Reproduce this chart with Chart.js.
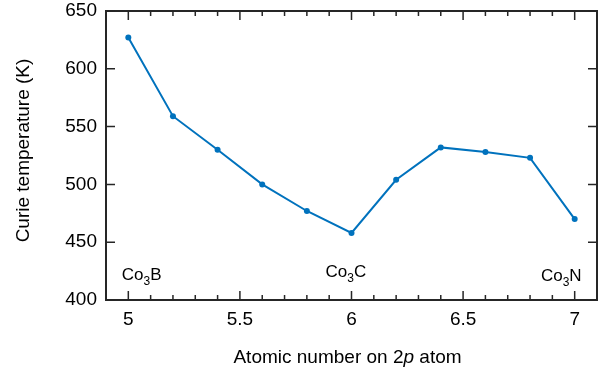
<!DOCTYPE html>
<html><head><meta charset="utf-8">
<script src="https://cdn.jsdelivr.net/npm/chart.js@4.4.0/dist/chart.umd.min.js"></script>
<style>html,body{margin:0;padding:0;background:#fff}</style>
</head><body>
<canvas id="c" width="612" height="371" style="display:block;width:612px;height:371px"></canvas>
<script>
const atomicNumber = [5, 5.2, 5.4, 5.6, 5.8, 6.0, 6.2, 6.4, 6.6, 6.8, 7.0];
const curieTemp = [627, 559, 530, 500, 477, 458, 504, 532, 528, 523, 470];
const xTickValues = [5, 5.5, 6, 6.5, 7];
const xMinorTickValues = [5.1, 5.2, 5.3, 5.4, 5.6, 5.7, 5.8, 5.9, 6.1, 6.2, 6.3, 6.4, 6.6, 6.7, 6.8, 6.9];
const yTickValues = [400, 450, 500, 550, 600, 650];
const compoundElements = ['B', 'C', 'N'];
const compoundX = [5.06, 5.975, 6.94];
const compoundY = [423, 425.5, 422];

const FONT = "'Liberation Sans', Arial, Helvetica, sans-serif";
const LINE = '#0072BD';
const AXIS_COLOR = 'rgb(38,38,38)';

const decor = {
  id: 'decor',
  afterDraw(chart) {
    const ctx = chart.ctx;
    const a = chart.chartArea;
    const xs = chart.scales.x, ys = chart.scales.y;
    ctx.save();
    ctx.setLineDash([]);
    ctx.strokeStyle = AXIS_COLOR;
    ctx.lineWidth = 2;
    ctx.lineCap = 'butt';
    const L = Math.round(a.left), R = Math.round(a.right), T = Math.round(a.top), Bt = Math.round(a.bottom);
    ctx.beginPath();
    ctx.moveTo(L, T); ctx.lineTo(R, T); ctx.lineTo(R, Bt); ctx.lineTo(L, Bt); ctx.closePath();
    ctx.stroke();
    ctx.lineWidth = 1.5;
    ctx.beginPath();
    xTickValues.forEach(v => {
      const px = xs.getPixelForValue(v);
      ctx.moveTo(px, Bt); ctx.lineTo(px, Bt - 9);
      ctx.moveTo(px, T); ctx.lineTo(px, T + 9);
    });
    xMinorTickValues.forEach(v => {
      const px = xs.getPixelForValue(v);
      ctx.moveTo(px, Bt); ctx.lineTo(px, Bt - 5);
      ctx.moveTo(px, T); ctx.lineTo(px, T + 5);
    });
    yTickValues.forEach(v => {
      const py = ys.getPixelForValue(v);
      ctx.moveTo(L, py); ctx.lineTo(L + 9, py);
      ctx.moveTo(R, py); ctx.lineTo(R - 9, py);
    });
    ctx.stroke();
    // compound labels
    ctx.fillStyle = '#000';
    ctx.textBaseline = 'alphabetic';
    ctx.textAlign = 'left';
    compoundElements.forEach((el, i) => {
      const big = '17px ' + FONT, small = '12px ' + FONT;
      ctx.font = big; const w1 = ctx.measureText('Co').width; const w3 = ctx.measureText(el).width;
      ctx.font = small; const w2 = ctx.measureText('3').width;
      const total = w1 + w2 + w3;
      const cx = xs.getPixelForValue(compoundX[i]);
      const cy = ys.getPixelForValue(compoundY[i]);
      const base = cy + 6.2;
      let x = cx - total / 2;
      ctx.font = big; ctx.fillText('Co', x, base); x += w1;
      ctx.font = small; ctx.fillText('3', x, base + 5); x += w2;
      ctx.font = big; ctx.fillText(el, x, base);
    });
    // x title with italic p
    const parts = [['Atomic number on 2', 'normal'], ['p', 'italic'], [' atom', 'normal']];
    let tw = 0;
    parts.forEach(p => { ctx.font = p[1] + ' 19px ' + FONT; p.push(ctx.measureText(p[0]).width); tw += p[2]; });
    let tx = (a.left + a.right) / 2 - 4 - tw / 2;
    parts.forEach(p => { ctx.font = p[1] + ' 19px ' + FONT; ctx.fillText(p[0], tx, 362.5); tx += p[2]; });
    // y title
    ctx.save();
    ctx.translate(29, (a.top + a.bottom) / 2 - 5);
    ctx.rotate(-Math.PI / 2);
    ctx.textAlign = 'center';
    ctx.font = '19px ' + FONT;
    ctx.fillText('Curie temperature (K)', 0, 0);
    ctx.restore();
    ctx.restore();
  }
};

new Chart(document.getElementById('c'), {
  type: 'line',
  data: {
    datasets: [{
      data: atomicNumber.map((x, i) => ({ x, y: curieTemp[i] })),
      borderColor: LINE,
      backgroundColor: LINE,
      borderWidth: 2,
      pointRadius: 3,
      pointBorderWidth: 0,
      tension: 0,
      fill: false
    }]
  },
  options: {
    responsive: false,
    animation: false,
    devicePixelRatio: 1,
    layout: { padding: { left: 0, right: 15, top: 11, bottom: 0 } },
    plugins: { legend: { display: false }, tooltip: { enabled: false } },
    scales: {
      x: {
        type: 'linear', min: 4.9, max: 7.1,
        afterBuildTicks: s => { s.ticks = xTickValues.map(v => ({ value: v })); },
        afterFit: s => { s.height = 71; s.paddingLeft = 0; s.paddingRight = 0; },
        grid: { display: false, drawTicks: false },
        border: { display: false },
        ticks: { color: '#000', font: { family: FONT, size: 19 }, padding: 8, maxRotation: 0, callback: v => String(v) }
      },
      y: {
        type: 'linear', min: 400, max: 650,
        afterBuildTicks: s => { s.ticks = yTickValues.map(v => ({ value: v })); },
        afterFit: s => { s.width = 106; s.paddingTop = 0; s.paddingBottom = 0; },
        grid: { display: false, drawTicks: false },
        border: { display: false },
        ticks: { color: '#000', font: { family: FONT, size: 19 }, padding: 9, callback: v => String(v) }
      }
    }
  },
  plugins: [decor]
});
</script>
</body></html>
